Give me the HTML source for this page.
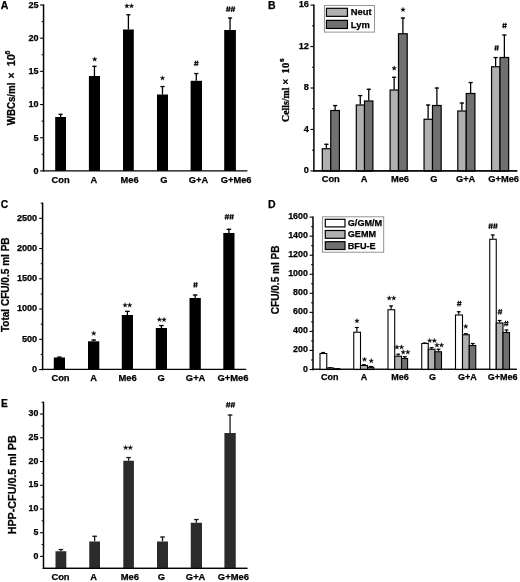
<!DOCTYPE html>
<html><head><meta charset="utf-8"><title>Figure</title>
<style>
html,body{margin:0;padding:0;background:#fff;}
body{width:520px;height:582px;overflow:hidden;font-family:"Liberation Sans",sans-serif;}
svg{display:block;filter:grayscale(1) blur(0.35px);}
</style></head><body>
<svg width="520" height="582" viewBox="0 0 520 582">
<rect width="520" height="582" fill="#fff"/>
<line x1="43.55" y1="4.40" x2="43.55" y2="171.60" stroke="#000" stroke-width="1.5"/>
<line x1="40.15" y1="170.90" x2="43.55" y2="170.90" stroke="#000" stroke-width="1.1"/>
<line x1="40.15" y1="137.72" x2="43.55" y2="137.72" stroke="#000" stroke-width="1.1"/>
<line x1="40.15" y1="104.54" x2="43.55" y2="104.54" stroke="#000" stroke-width="1.1"/>
<line x1="40.15" y1="71.36" x2="43.55" y2="71.36" stroke="#000" stroke-width="1.1"/>
<line x1="40.15" y1="38.18" x2="43.55" y2="38.18" stroke="#000" stroke-width="1.1"/>
<line x1="40.15" y1="5.00" x2="43.55" y2="5.00" stroke="#000" stroke-width="1.1"/>
<line x1="41.65" y1="154.31" x2="43.55" y2="154.31" stroke="#000" stroke-width="1.0"/>
<line x1="41.65" y1="121.13" x2="43.55" y2="121.13" stroke="#000" stroke-width="1.0"/>
<line x1="41.65" y1="87.95" x2="43.55" y2="87.95" stroke="#000" stroke-width="1.0"/>
<line x1="41.65" y1="54.77" x2="43.55" y2="54.77" stroke="#000" stroke-width="1.0"/>
<line x1="41.65" y1="21.59" x2="43.55" y2="21.59" stroke="#000" stroke-width="1.0"/>
<line x1="42.85" y1="170.90" x2="247.40" y2="170.90" stroke="#000" stroke-width="1.4"/>
<text x="38.60" y="173.74" font-size="9.05" text-anchor="end" font-family='"Liberation Sans", sans-serif' font-weight="bold" stroke="#000" stroke-width="0.25">0</text>
<text x="38.60" y="140.56" font-size="9.05" text-anchor="end" font-family='"Liberation Sans", sans-serif' font-weight="bold" stroke="#000" stroke-width="0.25">5</text>
<text x="38.60" y="107.38" font-size="9.05" text-anchor="end" font-family='"Liberation Sans", sans-serif' font-weight="bold" stroke="#000" stroke-width="0.25">10</text>
<text x="38.60" y="74.20" font-size="9.05" text-anchor="end" font-family='"Liberation Sans", sans-serif' font-weight="bold" stroke="#000" stroke-width="0.25">15</text>
<text x="38.60" y="41.02" font-size="9.05" text-anchor="end" font-family='"Liberation Sans", sans-serif' font-weight="bold" stroke="#000" stroke-width="0.25">20</text>
<text x="38.60" y="7.84" font-size="9.05" text-anchor="end" font-family='"Liberation Sans", sans-serif' font-weight="bold" stroke="#000" stroke-width="0.25">25</text>
<text x="0.80" y="8.50" font-size="10.5" text-anchor="start" font-family='"Liberation Sans", sans-serif' font-weight="bold" stroke="#000" stroke-width="0.25">A</text>
<line x1="60.60" y1="113.80" x2="60.60" y2="117.00" stroke="#000" stroke-width="1.3"/>
<line x1="58.50" y1="114.35" x2="62.70" y2="114.35" stroke="#000" stroke-width="1.3"/>
<rect x="55.20" y="117.00" width="10.80" height="53.90" fill="#000"/>
<line x1="94.45" y1="65.80" x2="94.45" y2="76.00" stroke="#000" stroke-width="1.3"/>
<line x1="92.35" y1="66.35" x2="96.55" y2="66.35" stroke="#000" stroke-width="1.3"/>
<rect x="88.90" y="76.00" width="11.10" height="94.90" fill="#000"/>
<line x1="128.40" y1="14.20" x2="128.40" y2="29.50" stroke="#000" stroke-width="1.3"/>
<line x1="126.30" y1="14.75" x2="130.50" y2="14.75" stroke="#000" stroke-width="1.3"/>
<rect x="123.00" y="29.50" width="10.80" height="141.40" fill="#000"/>
<line x1="162.50" y1="86.00" x2="162.50" y2="94.50" stroke="#000" stroke-width="1.3"/>
<line x1="160.40" y1="86.55" x2="164.60" y2="86.55" stroke="#000" stroke-width="1.3"/>
<rect x="157.00" y="94.50" width="11.00" height="76.40" fill="#000"/>
<line x1="196.30" y1="73.00" x2="196.30" y2="80.80" stroke="#000" stroke-width="1.3"/>
<line x1="194.20" y1="73.55" x2="198.40" y2="73.55" stroke="#000" stroke-width="1.3"/>
<rect x="190.60" y="80.80" width="11.40" height="90.10" fill="#000"/>
<line x1="230.05" y1="17.50" x2="230.05" y2="30.00" stroke="#000" stroke-width="1.3"/>
<line x1="227.95" y1="18.05" x2="232.15" y2="18.05" stroke="#000" stroke-width="1.3"/>
<rect x="224.20" y="30.00" width="11.70" height="140.90" fill="#000"/>
<text x="60.65" y="182.50" font-size="9.3" text-anchor="middle" font-family='"Liberation Sans", sans-serif' font-weight="bold" stroke="#000" stroke-width="0.25">Con</text>
<text x="93.85" y="182.50" font-size="9.3" text-anchor="middle" font-family='"Liberation Sans", sans-serif' font-weight="bold" stroke="#000" stroke-width="0.25">A</text>
<text x="129.60" y="182.50" font-size="9.3" text-anchor="middle" font-family='"Liberation Sans", sans-serif' font-weight="bold" stroke="#000" stroke-width="0.25">Me6</text>
<text x="163.75" y="182.50" font-size="9.3" text-anchor="middle" font-family='"Liberation Sans", sans-serif' font-weight="bold" stroke="#000" stroke-width="0.25">G</text>
<text x="198.50" y="182.50" font-size="9.3" text-anchor="middle" font-family='"Liberation Sans", sans-serif' font-weight="bold" stroke="#000" stroke-width="0.25">G+A</text>
<text x="236.15" y="182.50" font-size="9.3" text-anchor="middle" font-family='"Liberation Sans", sans-serif' font-weight="bold" stroke="#000" stroke-width="0.25">G+Me6</text>
<polygon points="94.70,56.90 95.26,58.58 97.03,58.59 95.60,59.64 96.14,61.33 94.70,60.30 93.26,61.33 93.80,59.64 92.37,58.59 94.14,58.58" fill="#000" stroke="#000" stroke-width="0.3" stroke-linejoin="miter"/>
<polygon points="126.90,3.60 127.46,5.28 129.23,5.29 127.80,6.34 128.34,8.03 126.90,7.00 125.46,8.03 126.00,6.34 124.57,5.29 126.34,5.28" fill="#000" stroke="#000" stroke-width="0.3" stroke-linejoin="miter"/>
<polygon points="131.50,3.60 132.06,5.28 133.83,5.29 132.40,6.34 132.94,8.03 131.50,7.00 130.06,8.03 130.60,6.34 129.17,5.29 130.94,5.28" fill="#000" stroke="#000" stroke-width="0.3" stroke-linejoin="miter"/>
<polygon points="162.50,75.70 163.06,77.38 164.83,77.39 163.40,78.44 163.94,80.13 162.50,79.10 161.06,80.13 161.60,78.44 160.17,77.39 161.94,77.38" fill="#000" stroke="#000" stroke-width="0.3" stroke-linejoin="miter"/>
<line x1="194.88" y1="66.15" x2="195.72" y2="60.55" stroke="#000" stroke-width="0.95"/>
<line x1="196.88" y1="66.15" x2="197.72" y2="60.55" stroke="#000" stroke-width="0.95"/>
<line x1="194.15" y1="62.35" x2="198.75" y2="62.35" stroke="#000" stroke-width="0.95"/>
<line x1="193.85" y1="64.35" x2="198.45" y2="64.35" stroke="#000" stroke-width="0.95"/>
<line x1="226.83" y1="11.95" x2="227.67" y2="6.35" stroke="#000" stroke-width="0.95"/>
<line x1="228.83" y1="11.95" x2="229.67" y2="6.35" stroke="#000" stroke-width="0.95"/>
<line x1="226.10" y1="8.15" x2="230.70" y2="8.15" stroke="#000" stroke-width="0.95"/>
<line x1="225.80" y1="10.15" x2="230.40" y2="10.15" stroke="#000" stroke-width="0.95"/>
<line x1="231.53" y1="11.95" x2="232.37" y2="6.35" stroke="#000" stroke-width="0.95"/>
<line x1="233.53" y1="11.95" x2="234.37" y2="6.35" stroke="#000" stroke-width="0.95"/>
<line x1="230.80" y1="8.15" x2="235.40" y2="8.15" stroke="#000" stroke-width="0.95"/>
<line x1="230.50" y1="10.15" x2="235.10" y2="10.15" stroke="#000" stroke-width="0.95"/>
<g transform="translate(14.6,125.2) rotate(-90)" font-family='"Liberation Sans", sans-serif' font-weight="bold" font-size="10.4" stroke="#000" stroke-width="0.25">
<text x="0" y="0" textLength="42.6" lengthAdjust="spacingAndGlyphs">WBCs/ml</text>
<text x="46.8" y="0">×</text>
<text x="58.9" y="0" font-size="11">10</text>
<text x="70.6" y="-4.4" font-size="7">6</text>
</g>
<line x1="313.90" y1="4.50" x2="313.90" y2="171.60" stroke="#000" stroke-width="1.5"/>
<line x1="310.50" y1="170.90" x2="313.90" y2="170.90" stroke="#000" stroke-width="1.1"/>
<line x1="310.50" y1="129.45" x2="313.90" y2="129.45" stroke="#000" stroke-width="1.1"/>
<line x1="310.50" y1="88.00" x2="313.90" y2="88.00" stroke="#000" stroke-width="1.1"/>
<line x1="310.50" y1="46.55" x2="313.90" y2="46.55" stroke="#000" stroke-width="1.1"/>
<line x1="310.50" y1="5.10" x2="313.90" y2="5.10" stroke="#000" stroke-width="1.1"/>
<line x1="312.00" y1="150.18" x2="313.90" y2="150.18" stroke="#000" stroke-width="1.0"/>
<line x1="312.00" y1="108.73" x2="313.90" y2="108.73" stroke="#000" stroke-width="1.0"/>
<line x1="312.00" y1="67.28" x2="313.90" y2="67.28" stroke="#000" stroke-width="1.0"/>
<line x1="312.00" y1="25.83" x2="313.90" y2="25.83" stroke="#000" stroke-width="1.0"/>
<line x1="313.20" y1="170.80" x2="517.30" y2="170.80" stroke="#000" stroke-width="1.35"/>
<text x="308.90" y="173.09" font-size="9.2" text-anchor="end" font-family='"Liberation Sans", sans-serif' font-weight="bold" stroke="#000" stroke-width="0.25">0</text>
<text x="308.90" y="131.64" font-size="9.2" text-anchor="end" font-family='"Liberation Sans", sans-serif' font-weight="bold" stroke="#000" stroke-width="0.25">4</text>
<text x="308.90" y="90.19" font-size="9.2" text-anchor="end" font-family='"Liberation Sans", sans-serif' font-weight="bold" stroke="#000" stroke-width="0.25">8</text>
<text x="308.90" y="48.74" font-size="9.2" text-anchor="end" font-family='"Liberation Sans", sans-serif' font-weight="bold" stroke="#000" stroke-width="0.25">12</text>
<text x="308.90" y="7.29" font-size="9.2" text-anchor="end" font-family='"Liberation Sans", sans-serif' font-weight="bold" stroke="#000" stroke-width="0.25">16</text>
<text x="268.00" y="8.80" font-size="10.5" text-anchor="start" font-family='"Liberation Sans", sans-serif' font-weight="bold" stroke="#000" stroke-width="0.25">B</text>
<line x1="326.38" y1="143.75" x2="326.38" y2="148.25" stroke="#000" stroke-width="1.3"/>
<line x1="324.27" y1="144.30" x2="328.48" y2="144.30" stroke="#000" stroke-width="1.3"/>
<line x1="335.12" y1="105.00" x2="335.12" y2="110.00" stroke="#000" stroke-width="1.3"/>
<line x1="333.02" y1="105.55" x2="337.23" y2="105.55" stroke="#000" stroke-width="1.3"/>
<rect x="322.30" y="148.75" width="8.45" height="22.15" fill="#b0b0b0" stroke="#000" stroke-width="1.2"/>
<rect x="330.75" y="110.50" width="8.65" height="60.40" fill="#707070" stroke="#000" stroke-width="1.2"/>
<line x1="360.25" y1="95.00" x2="360.25" y2="104.50" stroke="#000" stroke-width="1.3"/>
<line x1="358.15" y1="95.55" x2="362.35" y2="95.55" stroke="#000" stroke-width="1.3"/>
<line x1="368.75" y1="88.75" x2="368.75" y2="100.50" stroke="#000" stroke-width="1.3"/>
<line x1="366.65" y1="89.30" x2="370.85" y2="89.30" stroke="#000" stroke-width="1.3"/>
<rect x="356.30" y="105.00" width="8.20" height="65.90" fill="#b0b0b0" stroke="#000" stroke-width="1.2"/>
<rect x="364.50" y="101.00" width="8.40" height="69.90" fill="#707070" stroke="#000" stroke-width="1.2"/>
<line x1="394.15" y1="76.75" x2="394.15" y2="89.50" stroke="#000" stroke-width="1.3"/>
<line x1="392.05" y1="77.30" x2="396.25" y2="77.30" stroke="#000" stroke-width="1.3"/>
<line x1="402.90" y1="17.50" x2="402.90" y2="33.25" stroke="#000" stroke-width="1.3"/>
<line x1="400.80" y1="18.05" x2="405.00" y2="18.05" stroke="#000" stroke-width="1.3"/>
<rect x="390.10" y="90.00" width="8.40" height="80.90" fill="#b0b0b0" stroke="#000" stroke-width="1.2"/>
<rect x="398.50" y="33.75" width="8.70" height="137.15" fill="#707070" stroke="#000" stroke-width="1.2"/>
<line x1="428.12" y1="104.50" x2="428.12" y2="118.75" stroke="#000" stroke-width="1.3"/>
<line x1="426.02" y1="105.05" x2="430.23" y2="105.05" stroke="#000" stroke-width="1.3"/>
<line x1="436.88" y1="87.50" x2="436.88" y2="105.00" stroke="#000" stroke-width="1.3"/>
<line x1="434.77" y1="88.05" x2="438.98" y2="88.05" stroke="#000" stroke-width="1.3"/>
<rect x="424.05" y="119.25" width="8.45" height="51.65" fill="#b0b0b0" stroke="#000" stroke-width="1.2"/>
<rect x="432.50" y="105.50" width="8.65" height="65.40" fill="#707070" stroke="#000" stroke-width="1.2"/>
<line x1="461.88" y1="102.50" x2="461.88" y2="110.50" stroke="#000" stroke-width="1.3"/>
<line x1="459.77" y1="103.05" x2="463.98" y2="103.05" stroke="#000" stroke-width="1.3"/>
<line x1="470.62" y1="82.00" x2="470.62" y2="93.00" stroke="#000" stroke-width="1.3"/>
<line x1="468.52" y1="82.55" x2="472.73" y2="82.55" stroke="#000" stroke-width="1.3"/>
<rect x="457.80" y="111.00" width="8.45" height="59.90" fill="#b0b0b0" stroke="#000" stroke-width="1.2"/>
<rect x="466.25" y="93.50" width="8.65" height="77.40" fill="#707070" stroke="#000" stroke-width="1.2"/>
<line x1="495.62" y1="57.00" x2="495.62" y2="66.25" stroke="#000" stroke-width="1.3"/>
<line x1="493.52" y1="57.55" x2="497.73" y2="57.55" stroke="#000" stroke-width="1.3"/>
<line x1="504.38" y1="34.50" x2="504.38" y2="57.00" stroke="#000" stroke-width="1.3"/>
<line x1="502.27" y1="35.05" x2="506.48" y2="35.05" stroke="#000" stroke-width="1.3"/>
<rect x="491.55" y="66.75" width="8.45" height="104.15" fill="#b0b0b0" stroke="#000" stroke-width="1.2"/>
<rect x="500.00" y="57.50" width="8.65" height="113.40" fill="#707070" stroke="#000" stroke-width="1.2"/>
<line x1="313.20" y1="170.80" x2="517.30" y2="170.80" stroke="#000" stroke-width="1.35"/>
<text x="330.75" y="182.30" font-size="9.3" text-anchor="middle" font-family='"Liberation Sans", sans-serif' font-weight="bold" stroke="#000" stroke-width="0.25">Con</text>
<text x="364.12" y="182.30" font-size="9.3" text-anchor="middle" font-family='"Liberation Sans", sans-serif' font-weight="bold" stroke="#000" stroke-width="0.25">A</text>
<text x="400.00" y="182.30" font-size="9.3" text-anchor="middle" font-family='"Liberation Sans", sans-serif' font-weight="bold" stroke="#000" stroke-width="0.25">Me6</text>
<text x="433.75" y="182.30" font-size="9.3" text-anchor="middle" font-family='"Liberation Sans", sans-serif' font-weight="bold" stroke="#000" stroke-width="0.25">G</text>
<text x="465.62" y="182.30" font-size="9.3" text-anchor="middle" font-family='"Liberation Sans", sans-serif' font-weight="bold" stroke="#000" stroke-width="0.25">G+A</text>
<text x="503.68" y="182.30" font-size="9.3" text-anchor="middle" font-family='"Liberation Sans", sans-serif' font-weight="bold" stroke="#000" stroke-width="0.25">G+Me6</text>
<polygon points="394.20,65.80 394.76,67.48 396.53,67.49 395.10,68.54 395.64,70.23 394.20,69.20 392.76,70.23 393.30,68.54 391.87,67.49 393.64,67.48" fill="#000" stroke="#000" stroke-width="0.3" stroke-linejoin="miter"/>
<polygon points="403.00,7.20 403.56,8.88 405.33,8.89 403.90,9.94 404.44,11.63 403.00,10.60 401.56,11.63 402.10,9.94 400.67,8.89 402.44,8.88" fill="#000" stroke="#000" stroke-width="0.3" stroke-linejoin="miter"/>
<line x1="495.18" y1="50.75" x2="496.02" y2="45.15" stroke="#000" stroke-width="0.95"/>
<line x1="497.18" y1="50.75" x2="498.02" y2="45.15" stroke="#000" stroke-width="0.95"/>
<line x1="494.45" y1="46.95" x2="499.05" y2="46.95" stroke="#000" stroke-width="0.95"/>
<line x1="494.15" y1="48.95" x2="498.75" y2="48.95" stroke="#000" stroke-width="0.95"/>
<line x1="503.08" y1="28.40" x2="503.92" y2="22.80" stroke="#000" stroke-width="0.95"/>
<line x1="505.08" y1="28.40" x2="505.92" y2="22.80" stroke="#000" stroke-width="0.95"/>
<line x1="502.35" y1="24.60" x2="506.95" y2="24.60" stroke="#000" stroke-width="0.95"/>
<line x1="502.05" y1="26.60" x2="506.65" y2="26.60" stroke="#000" stroke-width="0.95"/>
<rect x="324.40" y="5.50" width="50.10" height="26.60" fill="#fff" stroke="#888" stroke-width="0.9"/>
<rect x="326.45" y="8.30" width="21.00" height="8.05" fill="#b0b0b0" stroke="#000" stroke-width="1.2"/>
<rect x="326.45" y="20.35" width="21.00" height="8.10" fill="#707070" stroke="#000" stroke-width="1.2"/>
<text x="350.80" y="15.45" font-size="9.4" text-anchor="start" font-family='"Liberation Sans", sans-serif' font-weight="bold" stroke="#000" stroke-width="0.25">Neut</text>
<text x="350.80" y="27.65" font-size="9.4" text-anchor="start" font-family='"Liberation Sans", sans-serif' font-weight="bold" stroke="#000" stroke-width="0.25">Lym</text>
<g transform="translate(288.7,122.0) rotate(-90)" font-family='"Liberation Serif", serif' font-weight="bold" font-size="10.6" stroke="#000" stroke-width="0.35">
<text x="0" y="0" textLength="34.6" lengthAdjust="spacingAndGlyphs">Cells/ml</text>
<text x="37.2" y="0" stroke-width="0.55">×</text>
<text x="48.6" y="0">10</text>
<text x="60.0" y="-4.6" font-size="7">6</text>
</g>
<line x1="42.60" y1="202.68" x2="42.60" y2="370.25" stroke="#000" stroke-width="1.5"/>
<line x1="39.20" y1="369.55" x2="42.60" y2="369.55" stroke="#000" stroke-width="1.1"/>
<line x1="39.20" y1="339.30" x2="42.60" y2="339.30" stroke="#000" stroke-width="1.1"/>
<line x1="39.20" y1="309.05" x2="42.60" y2="309.05" stroke="#000" stroke-width="1.1"/>
<line x1="39.20" y1="278.80" x2="42.60" y2="278.80" stroke="#000" stroke-width="1.1"/>
<line x1="39.20" y1="248.55" x2="42.60" y2="248.55" stroke="#000" stroke-width="1.1"/>
<line x1="39.20" y1="218.30" x2="42.60" y2="218.30" stroke="#000" stroke-width="1.1"/>
<line x1="40.70" y1="354.43" x2="42.60" y2="354.43" stroke="#000" stroke-width="1.0"/>
<line x1="40.70" y1="324.18" x2="42.60" y2="324.18" stroke="#000" stroke-width="1.0"/>
<line x1="40.70" y1="293.93" x2="42.60" y2="293.93" stroke="#000" stroke-width="1.0"/>
<line x1="40.70" y1="263.68" x2="42.60" y2="263.68" stroke="#000" stroke-width="1.0"/>
<line x1="40.70" y1="233.43" x2="42.60" y2="233.43" stroke="#000" stroke-width="1.0"/>
<line x1="40.70" y1="203.18" x2="42.60" y2="203.18" stroke="#000" stroke-width="1.0"/>
<line x1="41.90" y1="369.35" x2="246.20" y2="369.35" stroke="#000" stroke-width="1.25"/>
<text x="37.20" y="371.83" font-size="9.15" text-anchor="end" font-family='"Liberation Sans", sans-serif' font-weight="bold" stroke="#000" stroke-width="0.25">0</text>
<text x="37.20" y="341.58" font-size="9.15" text-anchor="end" font-family='"Liberation Sans", sans-serif' font-weight="bold" stroke="#000" stroke-width="0.25">500</text>
<text x="37.20" y="311.33" font-size="9.15" text-anchor="end" font-family='"Liberation Sans", sans-serif' font-weight="bold" stroke="#000" stroke-width="0.25">1000</text>
<text x="37.20" y="281.08" font-size="9.15" text-anchor="end" font-family='"Liberation Sans", sans-serif' font-weight="bold" stroke="#000" stroke-width="0.25">1500</text>
<text x="37.20" y="250.83" font-size="9.15" text-anchor="end" font-family='"Liberation Sans", sans-serif' font-weight="bold" stroke="#000" stroke-width="0.25">2000</text>
<text x="37.20" y="220.58" font-size="9.15" text-anchor="end" font-family='"Liberation Sans", sans-serif' font-weight="bold" stroke="#000" stroke-width="0.25">2500</text>
<text x="0.80" y="208.40" font-size="10.3" text-anchor="start" font-family='"Liberation Sans", sans-serif' font-weight="bold" stroke="#000" stroke-width="0.25">C</text>
<line x1="59.40" y1="356.60" x2="59.40" y2="357.50" stroke="#000" stroke-width="1.3"/>
<line x1="57.10" y1="357.15" x2="61.70" y2="357.15" stroke="#000" stroke-width="1.3"/>
<rect x="53.80" y="357.50" width="11.20" height="12.05" fill="#000"/>
<line x1="93.65" y1="339.50" x2="93.65" y2="341.30" stroke="#000" stroke-width="1.3"/>
<line x1="91.35" y1="340.05" x2="95.95" y2="340.05" stroke="#000" stroke-width="1.3"/>
<rect x="88.00" y="341.30" width="11.30" height="28.25" fill="#000"/>
<line x1="127.40" y1="310.80" x2="127.40" y2="315.00" stroke="#000" stroke-width="1.3"/>
<line x1="125.10" y1="311.35" x2="129.70" y2="311.35" stroke="#000" stroke-width="1.3"/>
<rect x="121.80" y="315.00" width="11.20" height="54.55" fill="#000"/>
<line x1="161.40" y1="325.00" x2="161.40" y2="328.00" stroke="#000" stroke-width="1.3"/>
<line x1="159.10" y1="325.55" x2="163.70" y2="325.55" stroke="#000" stroke-width="1.3"/>
<rect x="155.80" y="328.00" width="11.20" height="41.55" fill="#000"/>
<line x1="195.15" y1="294.50" x2="195.15" y2="298.00" stroke="#000" stroke-width="1.3"/>
<line x1="192.85" y1="295.05" x2="197.45" y2="295.05" stroke="#000" stroke-width="1.3"/>
<rect x="189.50" y="298.00" width="11.30" height="71.55" fill="#000"/>
<line x1="228.90" y1="228.80" x2="228.90" y2="233.00" stroke="#000" stroke-width="1.3"/>
<line x1="226.60" y1="229.35" x2="231.20" y2="229.35" stroke="#000" stroke-width="1.3"/>
<rect x="223.30" y="233.00" width="11.20" height="136.55" fill="#000"/>
<text x="60.50" y="381.00" font-size="9.4" text-anchor="middle" font-family='"Liberation Sans", sans-serif' font-weight="bold" stroke="#000" stroke-width="0.25">Con</text>
<text x="93.75" y="381.00" font-size="9.4" text-anchor="middle" font-family='"Liberation Sans", sans-serif' font-weight="bold" stroke="#000" stroke-width="0.25">A</text>
<text x="127.50" y="381.00" font-size="9.4" text-anchor="middle" font-family='"Liberation Sans", sans-serif' font-weight="bold" stroke="#000" stroke-width="0.25">Me6</text>
<text x="161.25" y="381.00" font-size="9.4" text-anchor="middle" font-family='"Liberation Sans", sans-serif' font-weight="bold" stroke="#000" stroke-width="0.25">G</text>
<text x="195.62" y="381.00" font-size="9.4" text-anchor="middle" font-family='"Liberation Sans", sans-serif' font-weight="bold" stroke="#000" stroke-width="0.25">G+A</text>
<text x="233.00" y="381.00" font-size="9.4" text-anchor="middle" font-family='"Liberation Sans", sans-serif' font-weight="bold" stroke="#000" stroke-width="0.25">G+Me6</text>
<polygon points="93.75,330.95 94.31,332.63 96.08,332.64 94.65,333.69 95.19,335.38 93.75,334.35 92.31,335.38 92.85,333.69 91.42,332.64 93.19,332.63" fill="#000" stroke="#000" stroke-width="0.3" stroke-linejoin="miter"/>
<polygon points="125.10,302.70 125.66,304.38 127.43,304.39 126.00,305.44 126.54,307.13 125.10,306.10 123.66,307.13 124.20,305.44 122.77,304.39 124.54,304.38" fill="#000" stroke="#000" stroke-width="0.3" stroke-linejoin="miter"/>
<polygon points="129.70,302.70 130.26,304.38 132.03,304.39 130.60,305.44 131.14,307.13 129.70,306.10 128.26,307.13 128.80,305.44 127.37,304.39 129.14,304.38" fill="#000" stroke="#000" stroke-width="0.3" stroke-linejoin="miter"/>
<polygon points="159.45,317.20 160.01,318.88 161.78,318.89 160.35,319.94 160.89,321.63 159.45,320.60 158.01,321.63 158.55,319.94 157.12,318.89 158.89,318.88" fill="#000" stroke="#000" stroke-width="0.3" stroke-linejoin="miter"/>
<polygon points="164.05,317.20 164.61,318.88 166.38,318.89 164.95,319.94 165.49,321.63 164.05,320.60 162.61,321.63 163.15,319.94 161.72,318.89 163.49,318.88" fill="#000" stroke="#000" stroke-width="0.3" stroke-linejoin="miter"/>
<line x1="194.08" y1="287.65" x2="194.92" y2="282.05" stroke="#000" stroke-width="0.95"/>
<line x1="196.08" y1="287.65" x2="196.92" y2="282.05" stroke="#000" stroke-width="0.95"/>
<line x1="193.35" y1="283.85" x2="197.95" y2="283.85" stroke="#000" stroke-width="0.95"/>
<line x1="193.05" y1="285.85" x2="197.65" y2="285.85" stroke="#000" stroke-width="0.95"/>
<line x1="225.48" y1="219.65" x2="226.32" y2="214.05" stroke="#000" stroke-width="0.95"/>
<line x1="227.48" y1="219.65" x2="228.32" y2="214.05" stroke="#000" stroke-width="0.95"/>
<line x1="224.75" y1="215.85" x2="229.35" y2="215.85" stroke="#000" stroke-width="0.95"/>
<line x1="224.45" y1="217.85" x2="229.05" y2="217.85" stroke="#000" stroke-width="0.95"/>
<line x1="230.18" y1="219.65" x2="231.02" y2="214.05" stroke="#000" stroke-width="0.95"/>
<line x1="232.18" y1="219.65" x2="233.02" y2="214.05" stroke="#000" stroke-width="0.95"/>
<line x1="229.45" y1="215.85" x2="234.05" y2="215.85" stroke="#000" stroke-width="0.95"/>
<line x1="229.15" y1="217.85" x2="233.75" y2="217.85" stroke="#000" stroke-width="0.95"/>
<g transform="translate(8.9,332.1) rotate(-90)" font-family='"Liberation Sans", sans-serif' font-weight="bold" font-size="10" stroke="#000" stroke-width="0.25">
<text x="0" y="0" textLength="94.7" lengthAdjust="spacingAndGlyphs">Total CFU/0.5 ml PB</text>
</g>
<line x1="313.00" y1="216.60" x2="313.00" y2="370.20" stroke="#000" stroke-width="1.5"/>
<line x1="309.60" y1="369.50" x2="313.00" y2="369.50" stroke="#000" stroke-width="1.1"/>
<line x1="309.60" y1="350.45" x2="313.00" y2="350.45" stroke="#000" stroke-width="1.1"/>
<line x1="309.60" y1="331.40" x2="313.00" y2="331.40" stroke="#000" stroke-width="1.1"/>
<line x1="309.60" y1="312.35" x2="313.00" y2="312.35" stroke="#000" stroke-width="1.1"/>
<line x1="309.60" y1="293.30" x2="313.00" y2="293.30" stroke="#000" stroke-width="1.1"/>
<line x1="309.60" y1="274.25" x2="313.00" y2="274.25" stroke="#000" stroke-width="1.1"/>
<line x1="309.60" y1="255.20" x2="313.00" y2="255.20" stroke="#000" stroke-width="1.1"/>
<line x1="309.60" y1="236.15" x2="313.00" y2="236.15" stroke="#000" stroke-width="1.1"/>
<line x1="309.60" y1="217.10" x2="313.00" y2="217.10" stroke="#000" stroke-width="1.1"/>
<line x1="311.10" y1="359.98" x2="313.00" y2="359.98" stroke="#000" stroke-width="1.0"/>
<line x1="311.10" y1="340.93" x2="313.00" y2="340.93" stroke="#000" stroke-width="1.0"/>
<line x1="311.10" y1="321.88" x2="313.00" y2="321.88" stroke="#000" stroke-width="1.0"/>
<line x1="311.10" y1="302.83" x2="313.00" y2="302.83" stroke="#000" stroke-width="1.0"/>
<line x1="311.10" y1="283.78" x2="313.00" y2="283.78" stroke="#000" stroke-width="1.0"/>
<line x1="311.10" y1="264.73" x2="313.00" y2="264.73" stroke="#000" stroke-width="1.0"/>
<line x1="311.10" y1="245.68" x2="313.00" y2="245.68" stroke="#000" stroke-width="1.0"/>
<line x1="311.10" y1="226.63" x2="313.00" y2="226.63" stroke="#000" stroke-width="1.0"/>
<line x1="312.30" y1="369.25" x2="516.80" y2="369.25" stroke="#000" stroke-width="1.2"/>
<text x="307.90" y="371.54" font-size="8.9" text-anchor="end" font-family='"Liberation Sans", sans-serif' font-weight="bold" stroke="#000" stroke-width="0.25">0</text>
<text x="307.90" y="352.49" font-size="8.9" text-anchor="end" font-family='"Liberation Sans", sans-serif' font-weight="bold" stroke="#000" stroke-width="0.25">200</text>
<text x="307.90" y="333.44" font-size="8.9" text-anchor="end" font-family='"Liberation Sans", sans-serif' font-weight="bold" stroke="#000" stroke-width="0.25">400</text>
<text x="307.90" y="314.39" font-size="8.9" text-anchor="end" font-family='"Liberation Sans", sans-serif' font-weight="bold" stroke="#000" stroke-width="0.25">600</text>
<text x="307.90" y="295.34" font-size="8.9" text-anchor="end" font-family='"Liberation Sans", sans-serif' font-weight="bold" stroke="#000" stroke-width="0.25">800</text>
<text x="307.90" y="276.29" font-size="8.9" text-anchor="end" font-family='"Liberation Sans", sans-serif' font-weight="bold" stroke="#000" stroke-width="0.25">1000</text>
<text x="307.90" y="257.24" font-size="8.9" text-anchor="end" font-family='"Liberation Sans", sans-serif' font-weight="bold" stroke="#000" stroke-width="0.25">1200</text>
<text x="307.90" y="238.19" font-size="8.9" text-anchor="end" font-family='"Liberation Sans", sans-serif' font-weight="bold" stroke="#000" stroke-width="0.25">1400</text>
<text x="307.90" y="219.14" font-size="8.9" text-anchor="end" font-family='"Liberation Sans", sans-serif' font-weight="bold" stroke="#000" stroke-width="0.25">1600</text>
<text x="268.00" y="208.30" font-size="10.5" text-anchor="start" font-family='"Liberation Sans", sans-serif' font-weight="bold" stroke="#000" stroke-width="0.25">D</text>
<line x1="323.12" y1="352.00" x2="323.12" y2="353.00" stroke="#000" stroke-width="1.2"/>
<line x1="321.23" y1="352.50" x2="325.02" y2="352.50" stroke="#000" stroke-width="1.2"/>
<line x1="330.25" y1="367.20" x2="330.25" y2="367.50" stroke="#000" stroke-width="1.2"/>
<line x1="328.35" y1="367.70" x2="332.15" y2="367.70" stroke="#000" stroke-width="1.2"/>
<line x1="337.12" y1="368.20" x2="337.12" y2="368.40" stroke="#000" stroke-width="1.2"/>
<line x1="335.23" y1="368.70" x2="339.02" y2="368.70" stroke="#000" stroke-width="1.2"/>
<rect x="320.00" y="353.50" width="6.75" height="16.00" fill="#fff" stroke="#000" stroke-width="1.1"/>
<rect x="326.75" y="368.00" width="7.00" height="1.50" fill="#b0b0b0" stroke="#000" stroke-width="1.1"/>
<rect x="333.75" y="368.90" width="6.25" height="0.60" fill="#707070" stroke="#000" stroke-width="1.1"/>
<line x1="356.88" y1="327.00" x2="356.88" y2="331.75" stroke="#000" stroke-width="1.2"/>
<line x1="354.98" y1="327.50" x2="358.77" y2="327.50" stroke="#000" stroke-width="1.2"/>
<line x1="364.00" y1="364.20" x2="364.00" y2="365.00" stroke="#000" stroke-width="1.2"/>
<line x1="362.10" y1="364.70" x2="365.90" y2="364.70" stroke="#000" stroke-width="1.2"/>
<line x1="370.88" y1="366.00" x2="370.88" y2="366.75" stroke="#000" stroke-width="1.2"/>
<line x1="368.98" y1="366.50" x2="372.77" y2="366.50" stroke="#000" stroke-width="1.2"/>
<rect x="353.75" y="332.25" width="6.75" height="37.25" fill="#fff" stroke="#000" stroke-width="1.1"/>
<rect x="360.50" y="365.50" width="7.00" height="4.00" fill="#b0b0b0" stroke="#000" stroke-width="1.1"/>
<rect x="367.50" y="367.25" width="6.25" height="2.25" fill="#707070" stroke="#000" stroke-width="1.1"/>
<line x1="391.10" y1="305.50" x2="391.10" y2="309.25" stroke="#000" stroke-width="1.2"/>
<line x1="389.20" y1="306.00" x2="393.00" y2="306.00" stroke="#000" stroke-width="1.2"/>
<line x1="398.15" y1="353.75" x2="398.15" y2="355.75" stroke="#000" stroke-width="1.2"/>
<line x1="396.25" y1="354.25" x2="400.05" y2="354.25" stroke="#000" stroke-width="1.2"/>
<line x1="404.85" y1="356.25" x2="404.85" y2="358.00" stroke="#000" stroke-width="1.2"/>
<line x1="402.95" y1="356.75" x2="406.75" y2="356.75" stroke="#000" stroke-width="1.2"/>
<rect x="388.00" y="309.75" width="6.70" height="59.75" fill="#fff" stroke="#000" stroke-width="1.1"/>
<rect x="394.70" y="356.25" width="6.90" height="13.25" fill="#b0b0b0" stroke="#000" stroke-width="1.1"/>
<rect x="401.60" y="358.50" width="6.00" height="11.00" fill="#707070" stroke="#000" stroke-width="1.1"/>
<line x1="424.75" y1="342.60" x2="424.75" y2="343.00" stroke="#000" stroke-width="1.2"/>
<line x1="422.85" y1="343.10" x2="426.65" y2="343.10" stroke="#000" stroke-width="1.2"/>
<line x1="431.62" y1="347.20" x2="431.62" y2="348.75" stroke="#000" stroke-width="1.2"/>
<line x1="429.73" y1="347.70" x2="433.52" y2="347.70" stroke="#000" stroke-width="1.2"/>
<line x1="438.50" y1="348.75" x2="438.50" y2="351.25" stroke="#000" stroke-width="1.2"/>
<line x1="436.60" y1="349.25" x2="440.40" y2="349.25" stroke="#000" stroke-width="1.2"/>
<rect x="421.75" y="343.50" width="6.50" height="26.00" fill="#fff" stroke="#000" stroke-width="1.1"/>
<rect x="428.25" y="349.25" width="6.75" height="20.25" fill="#b0b0b0" stroke="#000" stroke-width="1.1"/>
<rect x="435.00" y="351.75" width="6.50" height="17.75" fill="#707070" stroke="#000" stroke-width="1.1"/>
<line x1="458.75" y1="311.25" x2="458.75" y2="314.50" stroke="#000" stroke-width="1.2"/>
<line x1="456.85" y1="311.75" x2="460.65" y2="311.75" stroke="#000" stroke-width="1.2"/>
<line x1="465.88" y1="333.20" x2="465.88" y2="334.25" stroke="#000" stroke-width="1.2"/>
<line x1="463.98" y1="333.70" x2="467.77" y2="333.70" stroke="#000" stroke-width="1.2"/>
<line x1="472.75" y1="343.00" x2="472.75" y2="345.00" stroke="#000" stroke-width="1.2"/>
<line x1="470.85" y1="343.50" x2="474.65" y2="343.50" stroke="#000" stroke-width="1.2"/>
<rect x="455.50" y="315.00" width="7.00" height="54.50" fill="#fff" stroke="#000" stroke-width="1.1"/>
<rect x="462.50" y="334.75" width="6.75" height="34.75" fill="#b0b0b0" stroke="#000" stroke-width="1.1"/>
<rect x="469.25" y="345.50" width="6.50" height="24.00" fill="#707070" stroke="#000" stroke-width="1.1"/>
<line x1="492.75" y1="234.50" x2="492.75" y2="238.75" stroke="#000" stroke-width="1.2"/>
<line x1="490.85" y1="235.00" x2="494.65" y2="235.00" stroke="#000" stroke-width="1.2"/>
<line x1="499.62" y1="320.00" x2="499.62" y2="322.50" stroke="#000" stroke-width="1.2"/>
<line x1="497.73" y1="320.50" x2="501.52" y2="320.50" stroke="#000" stroke-width="1.2"/>
<line x1="506.50" y1="329.50" x2="506.50" y2="332.00" stroke="#000" stroke-width="1.2"/>
<line x1="504.60" y1="330.00" x2="508.40" y2="330.00" stroke="#000" stroke-width="1.2"/>
<rect x="489.75" y="239.25" width="6.50" height="130.25" fill="#fff" stroke="#000" stroke-width="1.1"/>
<rect x="496.25" y="323.00" width="6.75" height="46.50" fill="#b0b0b0" stroke="#000" stroke-width="1.1"/>
<rect x="503.00" y="332.50" width="6.50" height="37.00" fill="#707070" stroke="#000" stroke-width="1.1"/>
<line x1="312.30" y1="369.25" x2="516.80" y2="369.25" stroke="#000" stroke-width="1.2"/>
<text x="329.75" y="379.60" font-size="9.0" text-anchor="middle" font-family='"Liberation Sans", sans-serif' font-weight="bold" stroke="#000" stroke-width="0.25">Con</text>
<text x="364.12" y="379.60" font-size="9.0" text-anchor="middle" font-family='"Liberation Sans", sans-serif' font-weight="bold" stroke="#000" stroke-width="0.25">A</text>
<text x="400.00" y="379.60" font-size="9.0" text-anchor="middle" font-family='"Liberation Sans", sans-serif' font-weight="bold" stroke="#000" stroke-width="0.25">Me6</text>
<text x="432.50" y="379.60" font-size="9.0" text-anchor="middle" font-family='"Liberation Sans", sans-serif' font-weight="bold" stroke="#000" stroke-width="0.25">G</text>
<text x="467.38" y="379.60" font-size="9.0" text-anchor="middle" font-family='"Liberation Sans", sans-serif' font-weight="bold" stroke="#000" stroke-width="0.25">G+A</text>
<text x="502.70" y="379.60" font-size="9.0" text-anchor="middle" font-family='"Liberation Sans", sans-serif' font-weight="bold" stroke="#000" stroke-width="0.25">G+Me6</text>
<polygon points="357.00,318.45 357.56,320.13 359.33,320.14 357.90,321.19 358.44,322.88 357.00,321.85 355.56,322.88 356.10,321.19 354.67,320.14 356.44,320.13" fill="#000" stroke="#000" stroke-width="0.3" stroke-linejoin="miter"/>
<polygon points="364.50,356.95 365.06,358.63 366.83,358.64 365.40,359.69 365.94,361.38 364.50,360.35 363.06,361.38 363.60,359.69 362.17,358.64 363.94,358.63" fill="#000" stroke="#000" stroke-width="0.3" stroke-linejoin="miter"/>
<polygon points="371.25,358.45 371.81,360.13 373.58,360.14 372.15,361.19 372.69,362.88 371.25,361.85 369.81,362.88 370.35,361.19 368.92,360.14 370.69,360.13" fill="#000" stroke="#000" stroke-width="0.3" stroke-linejoin="miter"/>
<polygon points="389.20,295.70 389.76,297.38 391.53,297.39 390.10,298.44 390.64,300.13 389.20,299.10 387.76,300.13 388.30,298.44 386.87,297.39 388.64,297.38" fill="#000" stroke="#000" stroke-width="0.3" stroke-linejoin="miter"/>
<polygon points="393.80,295.70 394.36,297.38 396.13,297.39 394.70,298.44 395.24,300.13 393.80,299.10 392.36,300.13 392.90,298.44 391.47,297.39 393.24,297.38" fill="#000" stroke="#000" stroke-width="0.3" stroke-linejoin="miter"/>
<polygon points="396.95,344.70 397.51,346.38 399.28,346.39 397.85,347.44 398.39,349.13 396.95,348.10 395.51,349.13 396.05,347.44 394.62,346.39 396.39,346.38" fill="#000" stroke="#000" stroke-width="0.3" stroke-linejoin="miter"/>
<polygon points="401.55,344.70 402.11,346.38 403.88,346.39 402.45,347.44 402.99,349.13 401.55,348.10 400.11,349.13 400.65,347.44 399.22,346.39 400.99,346.38" fill="#000" stroke="#000" stroke-width="0.3" stroke-linejoin="miter"/>
<polygon points="403.20,349.70 403.76,351.38 405.53,351.39 404.10,352.44 404.64,354.13 403.20,353.10 401.76,354.13 402.30,352.44 400.87,351.39 402.64,351.38" fill="#000" stroke="#000" stroke-width="0.3" stroke-linejoin="miter"/>
<polygon points="407.80,349.70 408.36,351.38 410.13,351.39 408.70,352.44 409.24,354.13 407.80,353.10 406.36,354.13 406.90,352.44 405.47,351.39 407.24,351.38" fill="#000" stroke="#000" stroke-width="0.3" stroke-linejoin="miter"/>
<polygon points="429.70,338.20 430.26,339.88 432.03,339.89 430.60,340.94 431.14,342.63 429.70,341.60 428.26,342.63 428.80,340.94 427.37,339.89 429.14,339.88" fill="#000" stroke="#000" stroke-width="0.3" stroke-linejoin="miter"/>
<polygon points="434.30,338.20 434.86,339.88 436.63,339.89 435.20,340.94 435.74,342.63 434.30,341.60 432.86,342.63 433.40,340.94 431.97,339.89 433.74,339.88" fill="#000" stroke="#000" stroke-width="0.3" stroke-linejoin="miter"/>
<polygon points="436.95,342.70 437.51,344.38 439.28,344.39 437.85,345.44 438.39,347.13 436.95,346.10 435.51,347.13 436.05,345.44 434.62,344.39 436.39,344.38" fill="#000" stroke="#000" stroke-width="0.3" stroke-linejoin="miter"/>
<polygon points="441.55,342.70 442.11,344.38 443.88,344.39 442.45,345.44 442.99,347.13 441.55,346.10 440.11,347.13 440.65,345.44 439.22,344.39 440.99,344.38" fill="#000" stroke="#000" stroke-width="0.3" stroke-linejoin="miter"/>
<line x1="457.83" y1="306.40" x2="458.67" y2="300.80" stroke="#000" stroke-width="0.95"/>
<line x1="459.83" y1="306.40" x2="460.67" y2="300.80" stroke="#000" stroke-width="0.95"/>
<line x1="457.10" y1="302.60" x2="461.70" y2="302.60" stroke="#000" stroke-width="0.95"/>
<line x1="456.80" y1="304.60" x2="461.40" y2="304.60" stroke="#000" stroke-width="0.95"/>
<polygon points="465.75,323.95 466.31,325.63 468.08,325.64 466.65,326.69 467.19,328.38 465.75,327.35 464.31,328.38 464.85,326.69 463.42,325.64 465.19,325.63" fill="#000" stroke="#000" stroke-width="0.3" stroke-linejoin="miter"/>
<line x1="489.23" y1="228.90" x2="490.07" y2="223.30" stroke="#000" stroke-width="0.95"/>
<line x1="491.23" y1="228.90" x2="492.07" y2="223.30" stroke="#000" stroke-width="0.95"/>
<line x1="488.50" y1="225.10" x2="493.10" y2="225.10" stroke="#000" stroke-width="0.95"/>
<line x1="488.20" y1="227.10" x2="492.80" y2="227.10" stroke="#000" stroke-width="0.95"/>
<line x1="493.93" y1="228.90" x2="494.77" y2="223.30" stroke="#000" stroke-width="0.95"/>
<line x1="495.93" y1="228.90" x2="496.77" y2="223.30" stroke="#000" stroke-width="0.95"/>
<line x1="493.20" y1="225.10" x2="497.80" y2="225.10" stroke="#000" stroke-width="0.95"/>
<line x1="492.90" y1="227.10" x2="497.50" y2="227.10" stroke="#000" stroke-width="0.95"/>
<line x1="498.58" y1="314.65" x2="499.42" y2="309.05" stroke="#000" stroke-width="0.95"/>
<line x1="500.58" y1="314.65" x2="501.42" y2="309.05" stroke="#000" stroke-width="0.95"/>
<line x1="497.85" y1="310.85" x2="502.45" y2="310.85" stroke="#000" stroke-width="0.95"/>
<line x1="497.55" y1="312.85" x2="502.15" y2="312.85" stroke="#000" stroke-width="0.95"/>
<line x1="504.83" y1="326.40" x2="505.67" y2="320.80" stroke="#000" stroke-width="0.95"/>
<line x1="506.83" y1="326.40" x2="507.67" y2="320.80" stroke="#000" stroke-width="0.95"/>
<line x1="504.10" y1="322.60" x2="508.70" y2="322.60" stroke="#000" stroke-width="0.95"/>
<line x1="503.80" y1="324.60" x2="508.40" y2="324.60" stroke="#000" stroke-width="0.95"/>
<rect x="322.40" y="216.80" width="61.30" height="35.40" fill="#fff" stroke="#888" stroke-width="0.9"/>
<rect x="325.30" y="219.30" width="19.70" height="7.60" fill="#fff" stroke="#000" stroke-width="1.2"/>
<rect x="325.30" y="230.50" width="19.70" height="7.80" fill="#b0b0b0" stroke="#000" stroke-width="1.2"/>
<rect x="325.30" y="241.70" width="19.70" height="7.80" fill="#707070" stroke="#000" stroke-width="1.2"/>
<text x="347.80" y="225.90" font-size="9.1" text-anchor="start" font-family='"Liberation Sans", sans-serif' font-weight="bold" stroke="#000" stroke-width="0.25">G/GM/M</text>
<text x="347.80" y="237.30" font-size="9.1" text-anchor="start" font-family='"Liberation Sans", sans-serif' font-weight="bold" stroke="#000" stroke-width="0.25">GEMM</text>
<text x="347.80" y="248.60" font-size="9.1" text-anchor="start" font-family='"Liberation Sans", sans-serif' font-weight="bold" stroke="#000" stroke-width="0.25">BFU-E</text>
<g transform="translate(278.7,314.2) rotate(-90)" font-family='"Liberation Sans", sans-serif' font-weight="bold" font-size="10" stroke="#000" stroke-width="0.25">
<text x="0" y="0" textLength="68.7" lengthAdjust="spacingAndGlyphs">CFU/0.5 ml PB</text>
</g>
<line x1="43.50" y1="401.72" x2="43.50" y2="568.95" stroke="#000" stroke-width="1.5"/>
<line x1="40.10" y1="556.40" x2="43.50" y2="556.40" stroke="#000" stroke-width="1.1"/>
<line x1="40.10" y1="532.68" x2="43.50" y2="532.68" stroke="#000" stroke-width="1.1"/>
<line x1="40.10" y1="508.96" x2="43.50" y2="508.96" stroke="#000" stroke-width="1.1"/>
<line x1="40.10" y1="485.24" x2="43.50" y2="485.24" stroke="#000" stroke-width="1.1"/>
<line x1="40.10" y1="461.52" x2="43.50" y2="461.52" stroke="#000" stroke-width="1.1"/>
<line x1="40.10" y1="437.80" x2="43.50" y2="437.80" stroke="#000" stroke-width="1.1"/>
<line x1="40.10" y1="414.08" x2="43.50" y2="414.08" stroke="#000" stroke-width="1.1"/>
<line x1="41.60" y1="544.54" x2="43.50" y2="544.54" stroke="#000" stroke-width="1.0"/>
<line x1="41.60" y1="520.82" x2="43.50" y2="520.82" stroke="#000" stroke-width="1.0"/>
<line x1="41.60" y1="497.10" x2="43.50" y2="497.10" stroke="#000" stroke-width="1.0"/>
<line x1="41.60" y1="473.38" x2="43.50" y2="473.38" stroke="#000" stroke-width="1.0"/>
<line x1="41.60" y1="449.66" x2="43.50" y2="449.66" stroke="#000" stroke-width="1.0"/>
<line x1="41.60" y1="425.94" x2="43.50" y2="425.94" stroke="#000" stroke-width="1.0"/>
<line x1="41.60" y1="402.22" x2="43.50" y2="402.22" stroke="#000" stroke-width="1.0"/>
<line x1="42.80" y1="568.25" x2="247.40" y2="568.25" stroke="#000" stroke-width="1.25"/>
<text x="38.40" y="558.65" font-size="8.8" text-anchor="end" font-family='"Liberation Sans", sans-serif' font-weight="bold" stroke="#000" stroke-width="0.25">0</text>
<text x="38.40" y="534.93" font-size="8.8" text-anchor="end" font-family='"Liberation Sans", sans-serif' font-weight="bold" stroke="#000" stroke-width="0.25">5</text>
<text x="38.40" y="511.21" font-size="8.8" text-anchor="end" font-family='"Liberation Sans", sans-serif' font-weight="bold" stroke="#000" stroke-width="0.25">10</text>
<text x="38.40" y="487.49" font-size="8.8" text-anchor="end" font-family='"Liberation Sans", sans-serif' font-weight="bold" stroke="#000" stroke-width="0.25">15</text>
<text x="38.40" y="463.77" font-size="8.8" text-anchor="end" font-family='"Liberation Sans", sans-serif' font-weight="bold" stroke="#000" stroke-width="0.25">20</text>
<text x="38.40" y="440.05" font-size="8.8" text-anchor="end" font-family='"Liberation Sans", sans-serif' font-weight="bold" stroke="#000" stroke-width="0.25">25</text>
<text x="38.40" y="416.33" font-size="8.8" text-anchor="end" font-family='"Liberation Sans", sans-serif' font-weight="bold" stroke="#000" stroke-width="0.25">30</text>
<text x="0.90" y="407.40" font-size="10.2" text-anchor="start" font-family='"Liberation Sans", sans-serif' font-weight="bold" stroke="#000" stroke-width="0.25">E</text>
<line x1="60.90" y1="549.00" x2="60.90" y2="551.25" stroke="#1a1a1a" stroke-width="1.3"/>
<line x1="58.60" y1="549.55" x2="63.20" y2="549.55" stroke="#1a1a1a" stroke-width="1.3"/>
<rect x="55.50" y="551.25" width="10.80" height="17.00" fill="#2b2b2b"/>
<line x1="94.62" y1="535.75" x2="94.62" y2="541.50" stroke="#1a1a1a" stroke-width="1.3"/>
<line x1="92.33" y1="536.30" x2="96.92" y2="536.30" stroke="#1a1a1a" stroke-width="1.3"/>
<rect x="89.25" y="541.50" width="10.75" height="26.75" fill="#2b2b2b"/>
<line x1="128.60" y1="457.00" x2="128.60" y2="460.75" stroke="#1a1a1a" stroke-width="1.3"/>
<line x1="126.30" y1="457.55" x2="130.90" y2="457.55" stroke="#1a1a1a" stroke-width="1.3"/>
<rect x="123.30" y="460.75" width="10.60" height="107.50" fill="#2b2b2b"/>
<line x1="162.50" y1="536.50" x2="162.50" y2="541.50" stroke="#1a1a1a" stroke-width="1.3"/>
<line x1="160.20" y1="537.05" x2="164.80" y2="537.05" stroke="#1a1a1a" stroke-width="1.3"/>
<rect x="157.00" y="541.50" width="11.00" height="26.75" fill="#2b2b2b"/>
<line x1="196.38" y1="519.00" x2="196.38" y2="522.75" stroke="#1a1a1a" stroke-width="1.3"/>
<line x1="194.07" y1="519.55" x2="198.68" y2="519.55" stroke="#1a1a1a" stroke-width="1.3"/>
<rect x="190.75" y="522.75" width="11.25" height="45.50" fill="#2b2b2b"/>
<line x1="230.07" y1="414.50" x2="230.07" y2="433.00" stroke="#1a1a1a" stroke-width="1.3"/>
<line x1="227.77" y1="415.05" x2="232.38" y2="415.05" stroke="#1a1a1a" stroke-width="1.3"/>
<rect x="224.40" y="433.00" width="11.35" height="135.25" fill="#2b2b2b"/>
<line x1="42.80" y1="568.25" x2="247.40" y2="568.25" stroke="#000" stroke-width="1.25"/>
<text x="60.50" y="580.30" font-size="9.4" text-anchor="middle" font-family='"Liberation Sans", sans-serif' font-weight="bold" stroke="#000" stroke-width="0.25">Con</text>
<text x="93.75" y="580.30" font-size="9.4" text-anchor="middle" font-family='"Liberation Sans", sans-serif' font-weight="bold" stroke="#000" stroke-width="0.25">A</text>
<text x="129.80" y="580.30" font-size="9.4" text-anchor="middle" font-family='"Liberation Sans", sans-serif' font-weight="bold" stroke="#000" stroke-width="0.25">Me6</text>
<text x="161.50" y="580.30" font-size="9.4" text-anchor="middle" font-family='"Liberation Sans", sans-serif' font-weight="bold" stroke="#000" stroke-width="0.25">G</text>
<text x="195.62" y="580.30" font-size="9.4" text-anchor="middle" font-family='"Liberation Sans", sans-serif' font-weight="bold" stroke="#000" stroke-width="0.25">G+A</text>
<text x="233.38" y="580.30" font-size="9.4" text-anchor="middle" font-family='"Liberation Sans", sans-serif' font-weight="bold" stroke="#000" stroke-width="0.25">G+Me6</text>
<polygon points="125.70,445.20 126.26,446.88 128.03,446.89 126.60,447.94 127.14,449.63 125.70,448.60 124.26,449.63 124.80,447.94 123.37,446.89 125.14,446.88" fill="#000" stroke="#000" stroke-width="0.3" stroke-linejoin="miter"/>
<polygon points="130.30,445.20 130.86,446.88 132.63,446.89 131.20,447.94 131.74,449.63 130.30,448.60 128.86,449.63 129.40,447.94 127.97,446.89 129.74,446.88" fill="#000" stroke="#000" stroke-width="0.3" stroke-linejoin="miter"/>
<line x1="226.73" y1="407.65" x2="227.57" y2="402.05" stroke="#000" stroke-width="0.95"/>
<line x1="228.73" y1="407.65" x2="229.57" y2="402.05" stroke="#000" stroke-width="0.95"/>
<line x1="226.00" y1="403.85" x2="230.60" y2="403.85" stroke="#000" stroke-width="0.95"/>
<line x1="225.70" y1="405.85" x2="230.30" y2="405.85" stroke="#000" stroke-width="0.95"/>
<line x1="231.43" y1="407.65" x2="232.27" y2="402.05" stroke="#000" stroke-width="0.95"/>
<line x1="233.43" y1="407.65" x2="234.27" y2="402.05" stroke="#000" stroke-width="0.95"/>
<line x1="230.70" y1="403.85" x2="235.30" y2="403.85" stroke="#000" stroke-width="0.95"/>
<line x1="230.40" y1="405.85" x2="235.00" y2="405.85" stroke="#000" stroke-width="0.95"/>
<g transform="translate(15.8,534.3) rotate(-90)" font-family='"Liberation Sans", sans-serif' font-weight="bold" font-size="10.1" stroke="#000" stroke-width="0.25">
<text x="0" y="0" textLength="99.0" lengthAdjust="spacingAndGlyphs">HPP-CFU/0.5 ml PB</text>
</g>
</svg>
</body></html>
